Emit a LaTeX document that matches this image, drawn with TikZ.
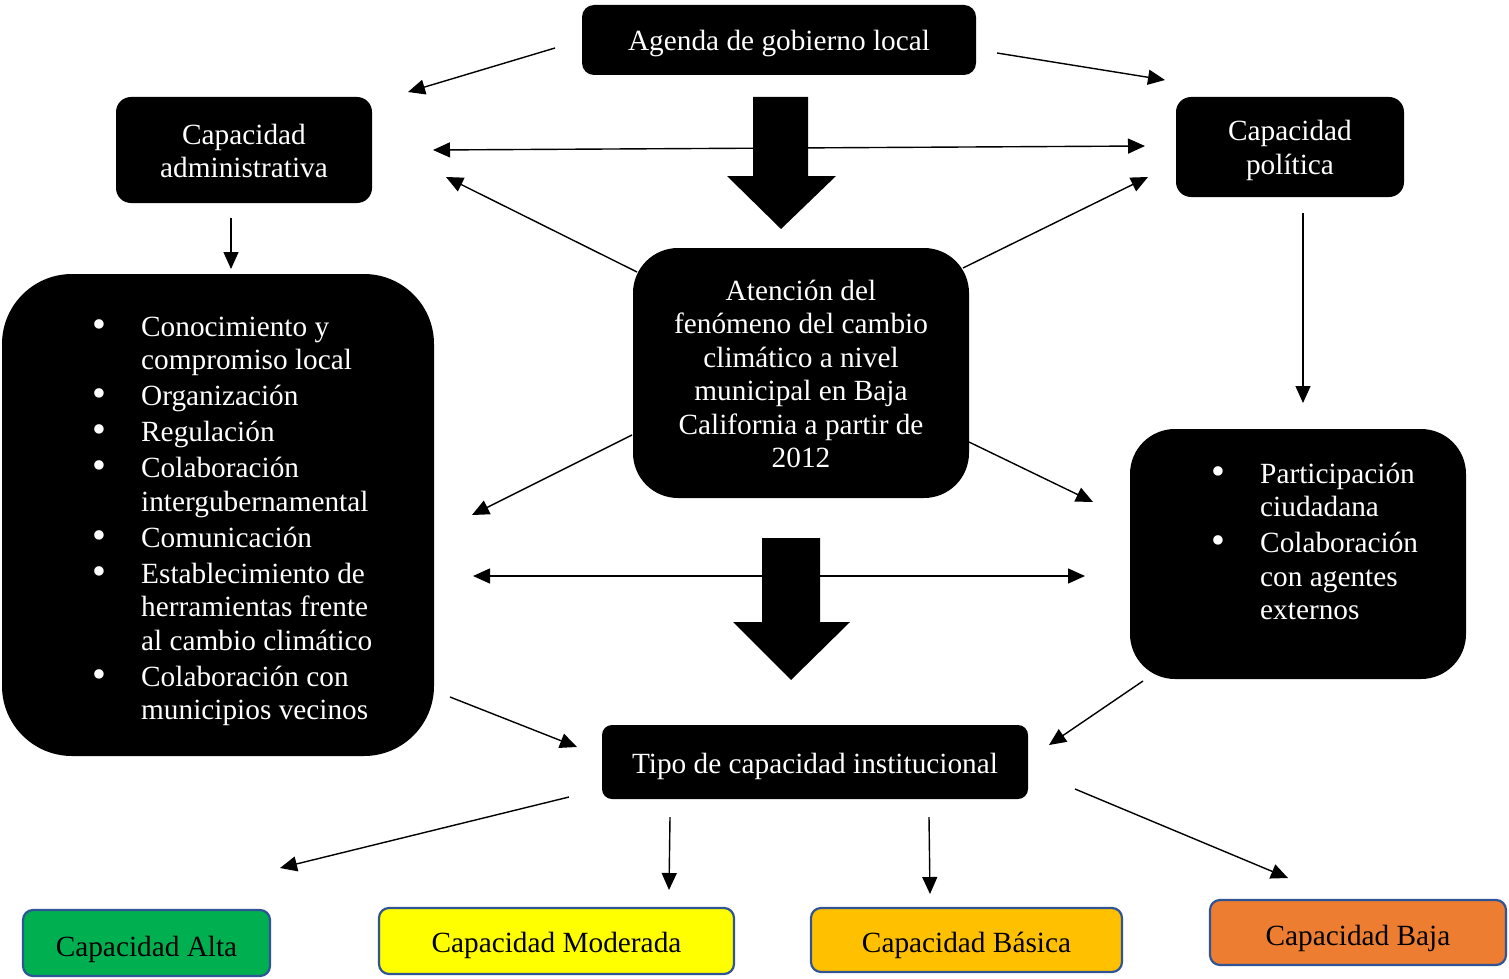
\documentclass[tikz,border=0pt]{standalone}
\usepackage{fontspec}
\setmainfont{Liberation Serif}
\usetikzlibrary{arrows.meta}
\definecolor{cgreen}{HTML}{00B050}
\definecolor{cyellow}{HTML}{FFFF00}
\definecolor{corange}{HTML}{FFC000}
\definecolor{cbaja}{HTML}{ED7D31}
\definecolor{cborder}{HTML}{2F5597}
\newcommand{\dfont}{\fontsize{29.3}{33.5}\selectfont}
\newcommand{\mybul}{\makebox[47pt][l]{\makebox[10pt][c]{\raisebox{-1pt}{\scalebox{1.35}{\textbullet}}}}}
\begin{document}
\begin{tikzpicture}[x=1pt,y=-1pt,
  blkbox/.style={fill=black, draw=none, inner sep=0pt},
  wtxt/.style={text=white, font=\dfont, inner sep=0pt},
  btxt/.style={text=black, font=\dfont, inner sep=0pt},
  capbox/.style={draw=cborder, line width=2.2pt, rounded corners=10pt, inner sep=0pt},
  arr/.style={line width=1.4pt, -{Triangle[length=17pt,width=15pt]}},
  darr/.style={line width=1.4pt, {Triangle[length=17pt,width=15pt]}-{Triangle[length=17pt,width=15pt]}},
  bigarr/.style={fill=black, draw=none}
]
\useasboundingbox (0,0) rectangle (1509,979);

% boxes
\node[blkbox, rounded corners=12pt, minimum width=394pt, minimum height=70pt] (agenda) at (779,40) {};
\node[blkbox, rounded corners=15pt, minimum width=256pt, minimum height=106pt] (admin) at (244,150) {};
\node[blkbox, rounded corners=15pt, minimum width=228pt, minimum height=100pt] (polit) at (1290,147) {};
\node[blkbox, rounded corners=70pt, minimum width=432pt, minimum height=482pt] (leftbox) at (218,515) {};
\node[blkbox, rounded corners=45pt, minimum width=336pt, minimum height=250pt] (center) at (801,373) {};
\node[blkbox, rounded corners=45pt, minimum width=336pt, minimum height=250pt] (rightbox) at (1298,554) {};
\node[blkbox, rounded corners=10pt, minimum width=426pt, minimum height=74pt] (tipo) at (815,762) {};

\node[capbox, fill=cgreen, minimum width=247pt, minimum height=66pt] (alta) at (146.5,943) {};
\node[capbox, fill=cyellow, minimum width=355pt, minimum height=66pt] (moderada) at (556.5,941) {};
\node[capbox, fill=corange, minimum width=311pt, minimum height=64pt] (basica) at (966.5,940) {};
\node[capbox, fill=cbaja, minimum width=296pt, minimum height=65pt] (baja) at (1358,932.5) {};

% texts
\node[wtxt, anchor=base] (tagenda) at (779,51) {Agenda de gobierno local};
\node[wtxt, anchor=base] (tadmin) at (244,144) {\begin{tabular}[t]{@{}c@{}}Capacidad\\administrativa\end{tabular}};
\node[wtxt, anchor=base] (tpolit) at (1290,141) {\begin{tabular}[t]{@{}c@{}}Capacidad\\política\end{tabular}};
\node[wtxt, anchor=base] (tcenter) at (801,300) {\begin{tabular}[t]{@{}c@{}}Atención del\\fenómeno del cambio\\climático a nivel\\municipal en Baja\\California a partir de\\2012\end{tabular}};
\node[wtxt, anchor=base west] (tleft) at (94,336) {\begin{tabular}[t]{@{}l@{}l@{}}
\mybul & Conocimiento y\\
 & compromiso local\\[2.5pt]
\mybul & Organización\\[2.5pt]
\mybul & Regulación\\[2.5pt]
\mybul & Colaboración\\
 & intergubernamental\\[2.5pt]
\mybul & Comunicación\\[2.5pt]
\mybul & Establecimiento de\\
 & herramientas frente\\
 & al cambio climático\\[2.5pt]
\mybul & Colaboración con\\
 & municipios vecinos
\end{tabular}};
\node[wtxt, anchor=base west] (tright) at (1213,483) {\begin{tabular}[t]{@{}l@{}l@{}}
\mybul & Participación\\
 & ciudadana\\[2.5pt]
\mybul & Colaboración\\
 & con agentes\\
 & externos
\end{tabular}};
\node[wtxt, anchor=base] (ttipo) at (815,773) {Tipo de capacidad institucional};
\node[btxt, anchor=base] (talta) at (146.5,956) {Capacidad Alta};
\node[btxt, anchor=base] (tmoderada) at (556.5,952) {Capacidad Moderada};
\node[btxt, anchor=base] (tbasica) at (966.5,952) {Capacidad Básica};
\node[btxt, anchor=base] (tbaja) at (1358,945) {Capacidad Baja};

% connector end points
\coordinate (a1s) at (555,48);   \coordinate (a1e) at (408,92);
\coordinate (a2s) at (997,53);   \coordinate (a2e) at (1165,80);
\coordinate (h1l) at (433,150);  \coordinate (h1r) at (1145,146);
\coordinate (a4s) at (637,272);  \coordinate (a4e) at (446,177);
\coordinate (a5s) at (963,268);  \coordinate (a5e) at (1148,177);
\coordinate (a6s) at (231,218);  \coordinate (a6e) at (231,269);
\coordinate (a7s) at (1303,213); \coordinate (a7e) at (1303,403);
\coordinate (a8s) at (632,435);  \coordinate (a8e) at (472,515);
\coordinate (a9s) at (969,442);  \coordinate (a9e) at (1093,502);
\coordinate (h2l) at (473,576);  \coordinate (h2r) at (1085,576);
\coordinate (a11s) at (450,697); \coordinate (a11e) at (577,747);
\coordinate (a12s) at (1143,681);\coordinate (a12e) at (1049,745);
\coordinate (a13s) at (569,797); \coordinate (a13e) at (280,868);
\coordinate (a14s) at (670,817); \coordinate (a14e) at (669,890);
\coordinate (a15s) at (929,817); \coordinate (a15e) at (930,894);
\coordinate (a16s) at (1075,789);\coordinate (a16e) at (1288,878);

\draw[arr] (a1s) -- (a1e);
\draw[arr] (a2s) -- (a2e);
\draw[darr] (h1l) -- (h1r);
\draw[arr] (a4s) -- (a4e);
\draw[arr] (a5s) -- (a5e);
\draw[arr] (a6s) -- (a6e);
\draw[arr] (a7s) -- (a7e);
\draw[arr] (a8s) -- (a8e);
\draw[arr] (a9s) -- (a9e);
\draw[darr] (h2l) -- (h2r);
\draw[arr] (a11s) -- (a11e);
\draw[arr] (a12s) -- (a12e);
\draw[arr] (a13s) -- (a13e);
\draw[arr] (a14s) -- (a14e);
\draw[arr] (a15s) -- (a15e);
\draw[arr] (a16s) -- (a16e);

% big arrows
\fill[bigarr] (753,97) -- (808,97) -- (808,176) -- (836,176) -- (781,229) -- (727,176) -- (753,176) -- cycle;
\fill[bigarr] (762,538) -- (820,538) -- (820,622) -- (850,622) -- (791,680) -- (733,622) -- (762,622) -- cycle;
\end{tikzpicture}
\end{document}
